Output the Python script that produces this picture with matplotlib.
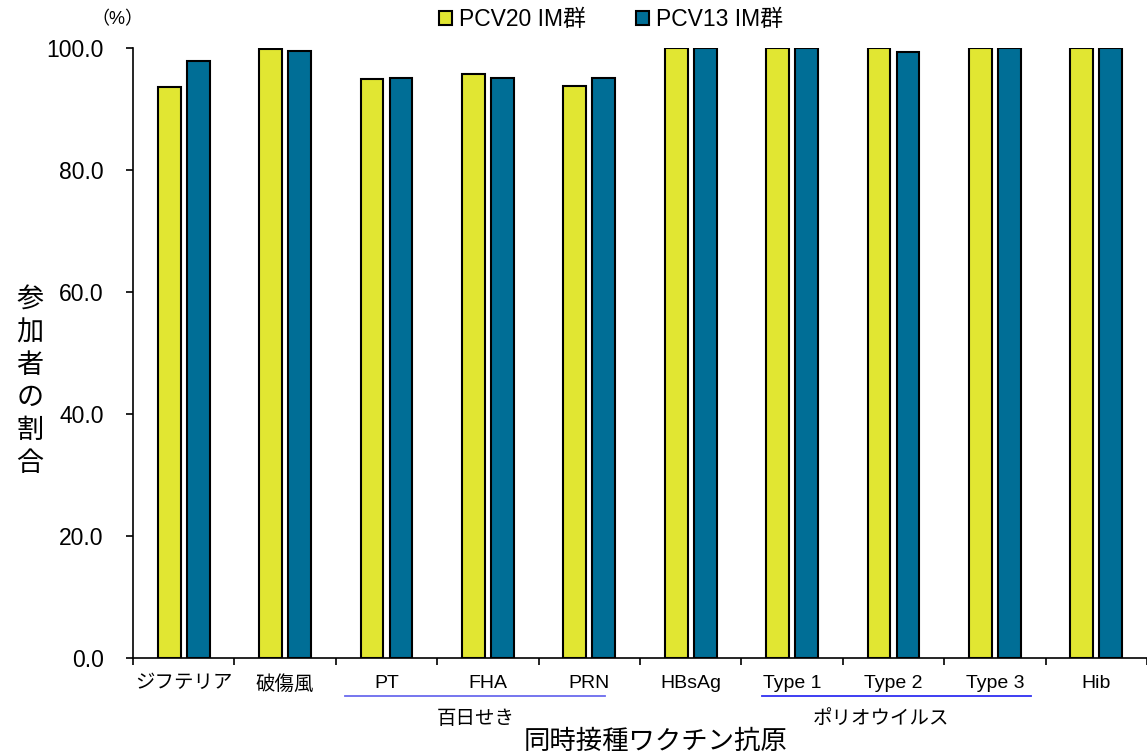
import matplotlib
matplotlib.use("Agg")
import matplotlib.pyplot as plt
import numpy as np

plt.rcParams['font.family'] = ['Liberation Sans', 'Noto Sans CJK JP']

antigens = ["ジフテリア", "破傷風", "PT", "FHA", "PRN", "HBsAg", "Type 1", "Type 2", "Type 3", "Hib"]
pcv20 = [93.6, 99.8, 95.0, 95.8, 93.8, 100.0, 100.0, 100.0, 100.0, 100.0]
pcv13 = [97.9, 99.5, 95.1, 95.1, 95.1, 100.0, 100.0, 99.3, 100.0, 100.0]
series_names = ["PCV20 IM群", "PCV13 IM群"]
yticks = [0, 20, 40, 60, 80, 100]
groups = [("百日せき", 2, 4), ("ポリオウイルス", 6, 8)]

yellow = "#E1E632"
blue = "#006E96"

fig = plt.figure(figsize=(11.47, 7.56), dpi=100)
W, H = 1147, 756
ax = fig.add_axes([133 / W, (H - 658) / H, (1147 - 133) / W, (658 - 48) / H])

x = np.arange(len(antigens))
bw = 0.225
off = 0.143
ax.bar(x - off, pcv20, bw, color=yellow, edgecolor="black", linewidth=1.5, label=series_names[0])
ax.bar(x + off, pcv13, bw, color=blue, edgecolor="black", linewidth=1.5, label=series_names[1])

ax.set_xlim(-0.5, 9.41)
ax.set_ylim(0, 100)
ax.set_yticks(yticks)
ax.set_yticklabels([f"{v:.1f}" for v in yticks], fontsize=16.5)
ax.set_xticks(x)
ax.set_xticklabels(antigens, fontsize=14)
ax.set_xticks(np.arange(len(antigens) + 1) - 0.5, minor=True)
ax.tick_params(axis="x", which="major", length=0, pad=12)
ax.tick_params(axis="x", which="minor", length=5, width=1.2, direction="out")
ax.tick_params(axis="y", length=5, width=1.2, direction="out", pad=16)
for s in ["top", "right"]:
    ax.spines[s].set_visible(False)
for s in ["left", "bottom"]:
    ax.spines[s].set_linewidth(1.2)

trans = ax.get_xaxis_transform()
line_colors = ["#6a6aee", "#2f2ff2"]
for (name, a, b), lc in zip(groups, line_colors):
    if a == 2:
        x0, x1 = a - 0.41, b + 0.15
    else:
        x0, x1 = a - 0.30, b + 0.36
    ax.plot([x0, x1], [-38 / 610, -38 / 610], transform=trans, color=lc,
            linewidth=1.3, clip_on=False)
    ax.text((a + b) / 2 - 0.12, -61 / 610, name, transform=trans, ha="center", va="center",
            fontsize=14)

fig.text(656 / W, 1 - 742 / H, "同時接種ワクチン抗原", ha="center", va="center", fontsize=19)
fig.text(30 / W, 1 - 382 / H, "\n".join("参加者の割合"), ha="center", va="center",
         fontsize=19.5, linespacing=1.33)
fig.text(117 / W, 1 - 20 / H, "（%）", ha="center", va="center", fontsize=13)

fig.legend(loc="center", bbox_to_anchor=(611 / W, 1 - 20 / H), ncol=2, frameon=False,
           fontsize=16.5, handlelength=0.55, handleheight=0.55, handletextpad=0.3,
           columnspacing=2.2)

fig.savefig("out.png", dpi=100)
